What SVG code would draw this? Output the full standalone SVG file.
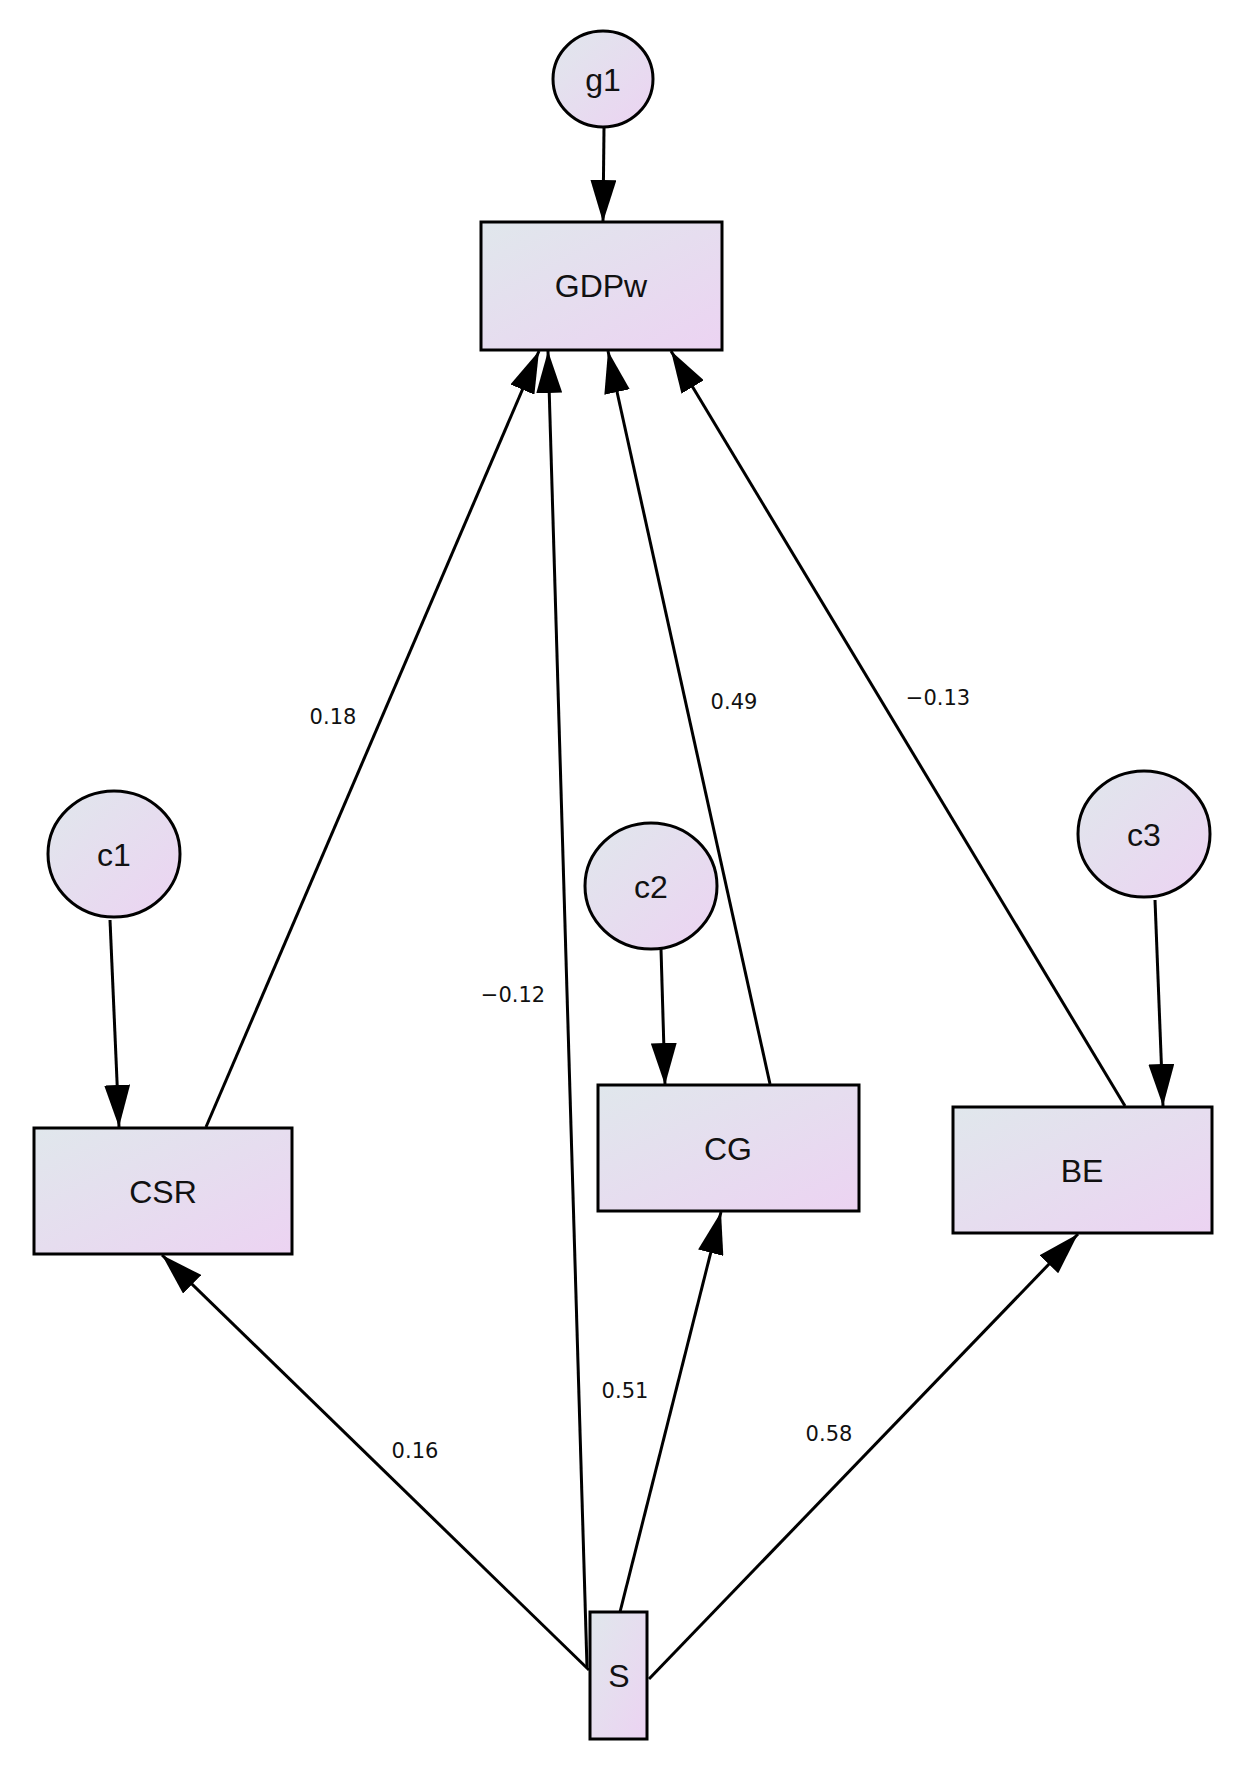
<svg xmlns="http://www.w3.org/2000/svg" width="1246" height="1772" viewBox="0 0 1246 1772">
<defs>
<linearGradient id="g" x1="0" y1="0" x2="1" y2="1"><stop offset="0" stop-color="#e0e7ec"/><stop offset="1" stop-color="#ecd3f2"/></linearGradient>
<marker id="a" markerUnits="userSpaceOnUse" markerWidth="42" markerHeight="26" refX="42" refY="13" orient="auto"><path d="M0,0 L42,13 L0,26 Z" fill="#000"/></marker>
<style>
.n{fill:url(#g);stroke:#000;stroke-width:3}
.t{font-family:"Liberation Sans",Arial,sans-serif;font-size:32px;text-anchor:middle;fill:#111}
.l{font-family:"DejaVu Sans",sans-serif;font-size:21px;text-anchor:middle;fill:#111}
.c line{stroke:#000;stroke-width:3;marker-end:url(#a)}
</style>
</defs>
<rect width="1246" height="1772" fill="#fff"/>
<g class="c" id="connectors">
<line x1="604" y1="128" x2="603" y2="222"/>
<line x1="206" y1="1127" x2="539" y2="351"/>
<line x1="587" y1="1667" x2="548" y2="351"/>
<line x1="770" y1="1084" x2="608" y2="351"/>
<line x1="1125" y1="1106" x2="671" y2="351"/>
<line x1="110" y1="920" x2="119" y2="1127"/>
<line x1="661" y1="949" x2="665" y2="1085"/>
<line x1="1155" y1="900" x2="1163" y2="1106"/>
<line x1="589" y1="1670" x2="162" y2="1255"/>
<line x1="620" y1="1612" x2="721" y2="1212"/>
<line x1="649" y1="1679" x2="1078" y2="1234"/>
</g>
<g class="l">
<text x="333" y="724">0.18</text>
<text x="513" y="1002">−0.12</text>
<text x="734" y="709">0.49</text>
<text x="938" y="705">−0.13</text>
<text x="415" y="1458">0.16</text>
<text x="625" y="1398">0.51</text>
<text x="829" y="1441">0.58</text>
</g>
<g id="g1"><ellipse class="n" cx="603" cy="79" rx="50" ry="48"/><text class="t" x="603" y="91">g1</text></g>
<g id="GDPw"><rect class="n" x="481" y="222" width="241" height="128"/><text class="t" x="601" y="297">GDPw</text></g>
<g id="c1"><ellipse class="n" cx="114" cy="854" rx="66" ry="63"/><text class="t" x="114" y="866">c1</text></g>
<g id="c2"><ellipse class="n" cx="651" cy="886" rx="66" ry="63"/><text class="t" x="651" y="898">c2</text></g>
<g id="c3"><ellipse class="n" cx="1144" cy="834" rx="66" ry="63"/><text class="t" x="1144" y="846">c3</text></g>
<g id="CSR"><rect class="n" x="34" y="1128" width="258" height="126"/><text class="t" x="163" y="1203">CSR</text></g>
<g id="CG"><rect class="n" x="598" y="1085" width="261" height="126"/><text class="t" x="728" y="1160">CG</text></g>
<g id="BE"><rect class="n" x="953" y="1107" width="259" height="126"/><text class="t" x="1082" y="1182">BE</text></g>
<g id="S"><rect class="n" x="590" y="1612" width="57" height="127"/><text class="t" x="619" y="1687">S</text></g>
</svg>
